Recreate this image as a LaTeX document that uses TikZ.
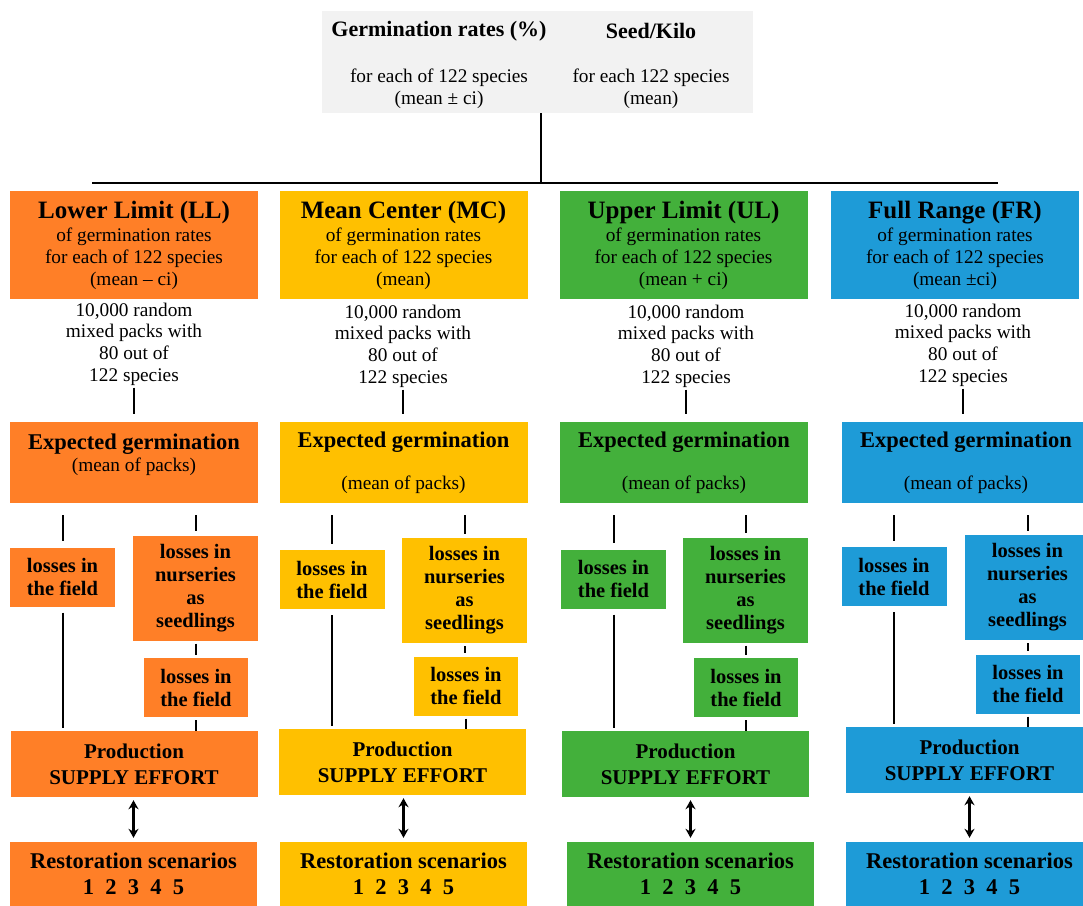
\documentclass[tikz,border=0pt]{standalone}
\usepackage{fontspec}
\setmainfont{Liberation Serif}
\usetikzlibrary{arrows.meta}
\definecolor{cOr}{HTML}{FF7F27}
\definecolor{cYe}{HTML}{FFC000}
\definecolor{cGr}{HTML}{43B03B}
\definecolor{cBl}{HTML}{1E9BD7}
\definecolor{cGy}{HTML}{F2F2F2}
\newcommand\fTitle{\fontsize{25}{26}\selectfont\bfseries}
\newcommand\fBody{\fontsize{19.3}{21.7}\selectfont}
\newcommand\fSmall{\fontsize{20.5}{23}\selectfont\bfseries}
\newcommand\fMed{\fontsize{21}{26}\selectfont\bfseries}
\newcommand\fBig{\fontsize{22.5}{26}\selectfont\bfseries}
\begin{document}
\begin{tikzpicture}[x=1pt,y=-1pt,
  box/.style={fill=#1, inner sep=0pt, align=center, text=black},
  hdr/.style={box=#1, minimum width=248pt, minimum height=108pt, font=\fBody},
  expb/.style={box=#1, minimum width=248pt, minimum height=81pt},
  fld/.style={box=#1, minimum width=105pt, minimum height=59pt, font=\fSmall},
  nur/.style={box=#1, minimum width=125pt, minimum height=105pt, font=\fSmall},
  prod/.style={box=#1, minimum width=247pt, minimum height=66pt, font=\fMed},
  rest/.style={box=#1, minimum width=247pt, minimum height=64pt, font=\fBig},
  txt/.style={inner sep=0pt, align=center, font=\fBody},
  conn/.style={line width=2pt, black},
  biarrow/.style={line width=2.2pt, black, {Stealth[length=9pt,width=10pt]}-{Stealth[length=9pt,width=10pt]}},
  bar/.style={line width=2.5pt, black}
]
\useasboundingbox (0,0) rectangle (1083,905);

% top box
\node[box=cGy, minimum width=431pt, minimum height=102pt] (g) at (537.5,62) {};
\node[txt, font=\fontsize{22}{24}\selectfont\bfseries] (g1) at (439,31) {Germination rates (\%)};
\node[txt, font=\fontsize{22}{24}\selectfont\bfseries] (g2) at (651,31) {Seed/Kilo};
\node[txt] (g3) at (439,89) {for each of 122 species\\(mean ± ci)};
\node[txt] (g4) at (651,89) {for each 122 species\\(mean)};
\coordinate (bm) at (541,183);
\coordinate (bl) at (92,183);
\coordinate (br) at (998,183);
\draw[bar] (g.south -| bm) -- (bm);
\draw[bar] (bl) -- (br);

% headers
\node[hdr=cOr] (h1) at (134,245) {{\fTitle Lower Limit (LL)}\\[2pt]of germination rates\\for each of 122 species\\(mean – ci)};
\node[hdr=cYe] (h2) at (403.5,245) {{\fTitle Mean Center (MC)}\\[2pt]of germination rates\\for each of 122 species\\(mean)};
\node[hdr=cGr] (h3) at (683.5,245) {{\fTitle Upper Limit (UL)}\\[2pt]of germination rates\\for each of 122 species\\(mean + ci)};
\node[hdr=cBl] (h4) at (955,245) {{\fTitle Full Range (FR)}\\[2pt]of germination rates\\for each of 122 species\\(mean ±ci)};

% random packs text
\node[txt] (t1) at (134,344) {10,000 random\\mixed packs with\\80 out of\\122 species};
\node[txt] (t2) at (403,346) {10,000 random\\mixed packs with\\80 out of\\122 species};
\node[txt] (t3) at (686,346) {10,000 random\\mixed packs with\\80 out of\\122 species};
\node[txt] (t4) at (963,345) {10,000 random\\mixed packs with\\80 out of\\122 species};

% expected germination
\node[expb=cOr] (e1) at (134,462.5) {};
\node[txt] (e1t) at ([yshift=8pt]e1.center) {{\fBig Expected germination}\\(mean of packs)};
\node[expb=cYe, font=\fBody] (e2) at (403.5,462.5) {{\fBig Expected germination}\\[20pt](mean of packs)};
\node[expb=cGr, font=\fBody] (e3) at (684,462.5) {{\fBig Expected germination}\\[20pt](mean of packs)};
\node[expb=cBl, font=\fBody] (e4) at (966,462.5) {{\fBig Expected germination}\\[20pt](mean of packs)};

% losses in the field (direct)
\node[fld=cOr] (fa1) at (62.5,577) {losses in\\the field};
\node[fld=cYe] (fa2) at (332,579.5) {losses in\\the field};
\node[fld=cGr] (fa3) at (613.5,579) {losses in\\the field};
\node[fld=cBl] (fa4) at (894,576.5) {losses in\\the field};

% nurseries
\node[nur=cOr] (n1) at (195.5,588) {losses in\\nurseries\\as\\seedlings};
\node[nur=cYe] (n2) at (464.5,590.5) {losses in\\nurseries\\as\\seedlings};
\node[nur=cGr] (n3) at (745.5,590) {losses in\\nurseries\\as\\seedlings};
\node[nur=cBl] (n4) at (1027.5,587.5) {losses in\\nurseries\\as\\seedlings};

% losses in the field (after nursery)
\node[fld=cOr, minimum width=104pt] (fb1) at (196,687.5) {losses in\\the field};
\node[fld=cYe, minimum width=104pt] (fb2) at (466,686) {losses in\\the field};
\node[fld=cGr, minimum width=104pt] (fb3) at (746,687.5) {losses in\\the field};
\node[fld=cBl, minimum width=104pt] (fb4) at (1028,684) {losses in\\the field};

% production
\node[prod=cOr] (p1) at (134,764) {Production\\SUPPLY EFFORT};
\node[prod=cYe] (p2) at (402.5,762) {Production\\SUPPLY EFFORT};
\node[prod=cGr] (p3) at (685.5,764) {Production\\SUPPLY EFFORT};
\node[prod=cBl] (p4) at (969.5,760) {Production\\SUPPLY EFFORT};

% restoration
\node[rest=cOr] (r1) at (133.5,874) {Restoration scenarios\\1\,\,\,2\,\,\,3\,\,\,4\,\,\,5};
\node[rest=cYe] (r2) at (403.5,874) {Restoration scenarios\\1\,\,\,2\,\,\,3\,\,\,4\,\,\,5};
\node[rest=cGr] (r3) at (690.5,874) {Restoration scenarios\\1\,\,\,2\,\,\,3\,\,\,4\,\,\,5};
\node[rest=cBl] (r4) at (969.5,874) {Restoration scenarios\\1\,\,\,2\,\,\,3\,\,\,4\,\,\,5};

% connectors
\foreach \i in {1,2,3,4}{
  \draw[conn, shorten <=2pt, shorten >=8pt] (t\i.south) -- (t\i.south |- e\i.north);
  \draw[conn, shorten <=12pt, shorten >=6pt] (e\i.south -| fa\i.north) -- (fa\i.north);
  \draw[conn, shorten <=12pt, shorten >=4pt] (e\i.south -| n\i.north) -- (n\i.north);
  \draw[conn, shorten <=3pt, shorten >=3pt] (n\i.south) -- (n\i.south |- fb\i.north);
  \draw[conn, shorten <=3pt] (fb\i.south) -- (fb\i.south |- p\i.north);
  \draw[conn, shorten <=6pt, shorten >=3pt] (fa\i.south) -- (fa\i.south |- p\i.north);
  \draw[biarrow, shorten <=3pt, shorten >=4pt] (p\i.south -| r\i.north) -- (r\i.north);
}
\end{tikzpicture}
\end{document}
